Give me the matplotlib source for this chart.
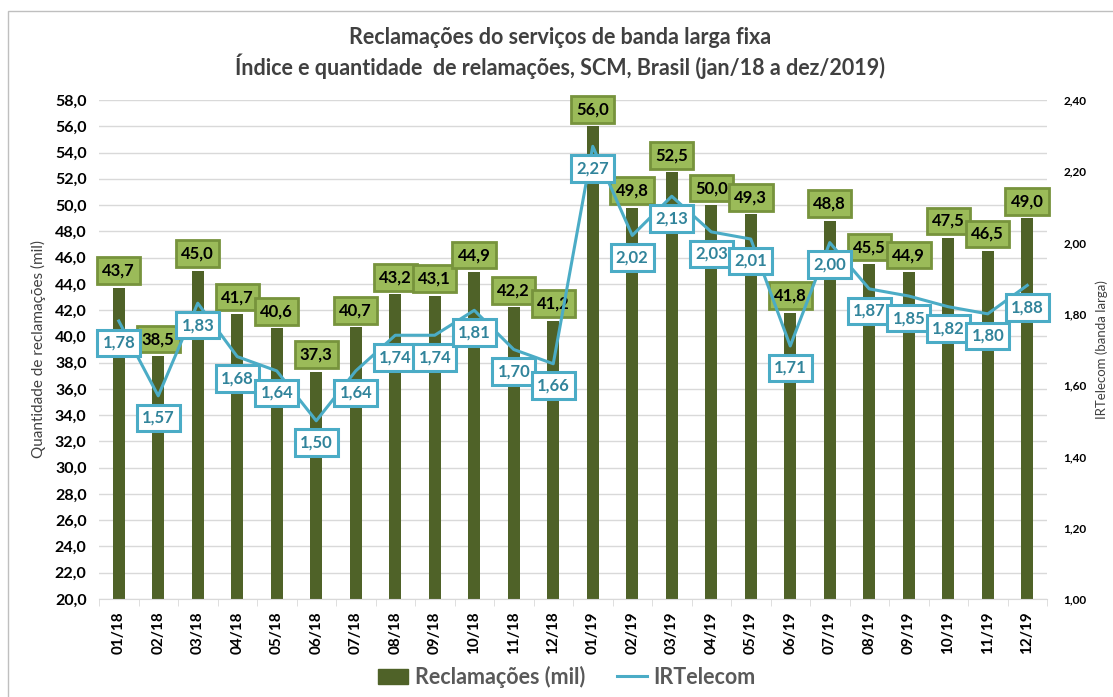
import matplotlib.pyplot as plt
from matplotlib.patches import Rectangle
from matplotlib.lines import Line2D
from matplotlib.ticker import FixedLocator

# data
meses = ['01/18', '02/18', '03/18', '04/18', '05/18', '06/18', '07/18', '08/18',
         '09/18', '10/18', '11/18', '12/18', '01/19', '02/19', '03/19', '04/19',
         '05/19', '06/19', '07/19', '08/19', '09/19', '10/19', '11/19', '12/19']
reclamacoes = [43.7, 38.5, 45.0, 41.7, 40.6, 37.3, 40.7, 43.2, 43.1, 44.9, 42.2, 41.2,
               56.0, 49.8, 52.5, 50.0, 49.3, 41.8, 48.8, 45.5, 44.9, 47.5, 46.5, 49.0]
ir_telecom = [1.78, 1.57, 1.83, 1.68, 1.64, 1.50, 1.64, 1.74, 1.74, 1.81, 1.70, 1.66,
              2.27, 2.02, 2.13, 2.03, 2.01, 1.71, 2.00, 1.87, 1.85, 1.82, 1.80, 1.88]
left_ticks = [20 + 2 * i for i in range(20)]
right_ticks = [1.0, 1.2, 1.4, 1.6, 1.8, 2.0, 2.2, 2.4]

bar_color = '#4F6228'
line_color = '#4BACC6'
FONT = 'Lato'


def br(v, nd):
    return f'{v:.{nd}f}'.replace('.', ',')


fig = plt.figure(figsize=(11.13, 6.97), dpi=100)
ax = fig.add_axes([99 / 1113, 1 - 599 / 697, (1047 - 99) / 1113, (599 - 100) / 697])
ax2 = ax.twinx()

x = list(range(len(meses)))
ax.bar(x, reclamacoes, width=0.31, color=bar_color, zorder=2)
ax.set_xlim(-0.5, len(meses) - 0.5)
ax.set_ylim(20, 58)
ax.set_yticks(left_ticks)
ax.set_yticklabels([br(v, 1) for v in left_ticks], fontfamily=FONT,
                   fontweight='bold', fontsize=11.5)
ax.yaxis.grid(True, color='#D9D9D9', lw=1, zorder=0)
ax.set_axisbelow(True)
ax.tick_params(axis='y', length=0, pad=9)
ax.set_xticks(x)
ax.set_xticklabels(meses, rotation=90, fontfamily=FONT, fontweight='bold', fontsize=11)
ax.tick_params(axis='x', length=0, pad=9)
ax.xaxis.set_minor_locator(FixedLocator([i - 0.5 for i in range(len(meses) + 1)]))
ax.tick_params(axis='x', which='minor', length=5, color='#D9D9D9')
for s in ['top', 'left', 'right']:
    ax.spines[s].set_visible(False)
    ax2.spines[s].set_visible(False)
ax.spines['bottom'].set_color('#D9D9D9')
ax2.spines['bottom'].set_visible(False)
ax.set_ylabel('Quantidade de reclamações (mil)', fontfamily=FONT, fontsize=11,
              color='#404040', labelpad=6)

for xi, v in zip(x, reclamacoes):
    ax.annotate(br(v, 1), (xi, v), xytext=(0, 17), textcoords='offset pixels',
                ha='center', va='center', fontfamily=FONT, fontweight='bold',
                fontsize=12, color='black', zorder=3,
                bbox=dict(boxstyle='square,pad=0.32', fc='#9BBB59', ec='#77933C', lw=2))

ax2.plot(x, ir_telecom, color=line_color, lw=2.2, zorder=3)
ax2.set_ylim(1.0, 2.4)
ax2.set_yticks(right_ticks)
ax2.set_yticklabels([br(v, 2) for v in right_ticks], fontfamily=FONT,
                    fontweight='bold', fontsize=8.5)
ax2.tick_params(axis='y', length=0, pad=12)
ax2.set_ylabel('IRTelecom (banda larga)', fontfamily=FONT, fontsize=9.5,
               color='#404040', labelpad=6)

for xi, v in zip(x, ir_telecom):
    ax2.annotate(br(v, 2), (xi, v), xytext=(0, -22), textcoords='offset pixels',
                 ha='center', va='center', fontfamily=FONT, fontweight='bold',
                 fontsize=12, color='#31849B', zorder=4,
                 bbox=dict(boxstyle='square,pad=0.32', fc='white', ec=line_color, lw=2.2))

fig.text(560 / 1113, 1 - 53 / 697,
         'Reclamações do serviços de banda larga fixa\n'
         'Índice e quantidade  de relamações, SCM, Brasil (jan/18 a dez/2019)',
         ha='center', va='center', fontfamily=FONT, fontweight='bold', fontsize=15.5,
         color='#404040', linespacing=1.25)

# legend
handles = [Rectangle((0, 0), 1, 1, color=bar_color),
           Line2D([], [], color=line_color, lw=2.2)]
leg = fig.legend(handles, ['Reclamações (mil)', 'IRTelecom'], loc='center',
                 bbox_to_anchor=(567 / 1113, 1 - 677 / 697), ncol=2, frameon=False,
                 handlelength=1.4, handletextpad=0.3, columnspacing=1.5,
                 prop={'family': FONT, 'weight': 'bold', 'size': 15.5})
for t in leg.get_texts():
    t.set_color('#595959')

# chart frame
fig.add_artist(Rectangle((8 / 1113, -0.1), 1.2, 1.1 - 11 / 697, transform=fig.transFigure,
                         fill=False, ec='#BFBFBF', lw=1))

fig.savefig('out.png', dpi=100)
